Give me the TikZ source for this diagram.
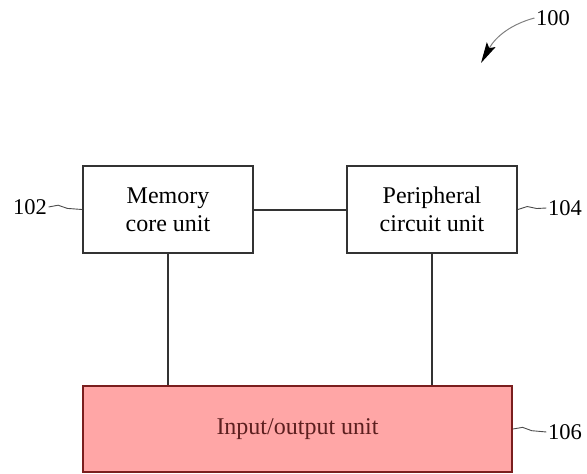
\documentclass[tikz,border=0pt]{standalone}
\usepackage{fontspec}
\setmainfont{Liberation Serif}
\usetikzlibrary{positioning, arrows.meta, decorations.pathmorphing}
\definecolor{rosa}{HTML}{FFA6A6}
\definecolor{bordo}{HTML}{7A1E1E}
\definecolor{testoio}{HTML}{5C1F1F}

\begin{document}
\begin{tikzpicture}[x = 1pt, y = -1pt,
    blocco/.style = {draw=black!80, line width=2pt, minimum width=170pt,
        minimum height=87pt, align=center, font=\fontsize{24}{28}\selectfont},
    filo/.style = {black!80, line width=2pt},
    rif/.style = {font=\fontsize{22.5}{26}\selectfont, inner sep=1.5pt},
    onda/.style = {black!70, line width=0.9pt, decorate,
        decoration={snake, segment length=30pt, amplitude=2.5pt}}]

    \useasboundingbox (0,0) rectangle (587,474);

    % Blocchi
    \node[blocco] (mem) at (168,209.5) {Memory\\core unit};
    \node[blocco, right=92pt of mem] (peri) {Peripheral\\circuit unit};
    \node[blocco, fill=rosa, draw=bordo, text=testoio, minimum width=429pt,
        minimum height=86pt] (io) at (297.5,429) {Input/output unit};

    % Collegamenti
    \draw[filo] (mem) -- (peri);
    \draw[filo] (mem.south) -- (mem.south |- io.north);
    \draw[filo] (peri.south) -- (peri.south |- io.north);

    % Riferimenti
    \node[rif] (l102) at (30,207) {102};
    \node[rif] (l104) at (565,208) {104};
    \node[rif] (l106) at (565,432) {106};
    \draw[onda] (l102.east) -- (mem.west);
    \draw[onda] (peri.east) -- (l104.west);
    \draw[onda] (io.east) -- (l106.west);

    % Riferimento complessivo
    \node[rif] (l100) at (553,18) {100};
    \coordinate (punta) at (481,63);
    \draw[black!50, line width=1pt, -{Stealth[length=21pt, width=10pt, inset=4pt, color=black]}]
        (l100.west) .. controls (512,24) and (496,36) .. (punta);

\end{tikzpicture}
\end{document}
